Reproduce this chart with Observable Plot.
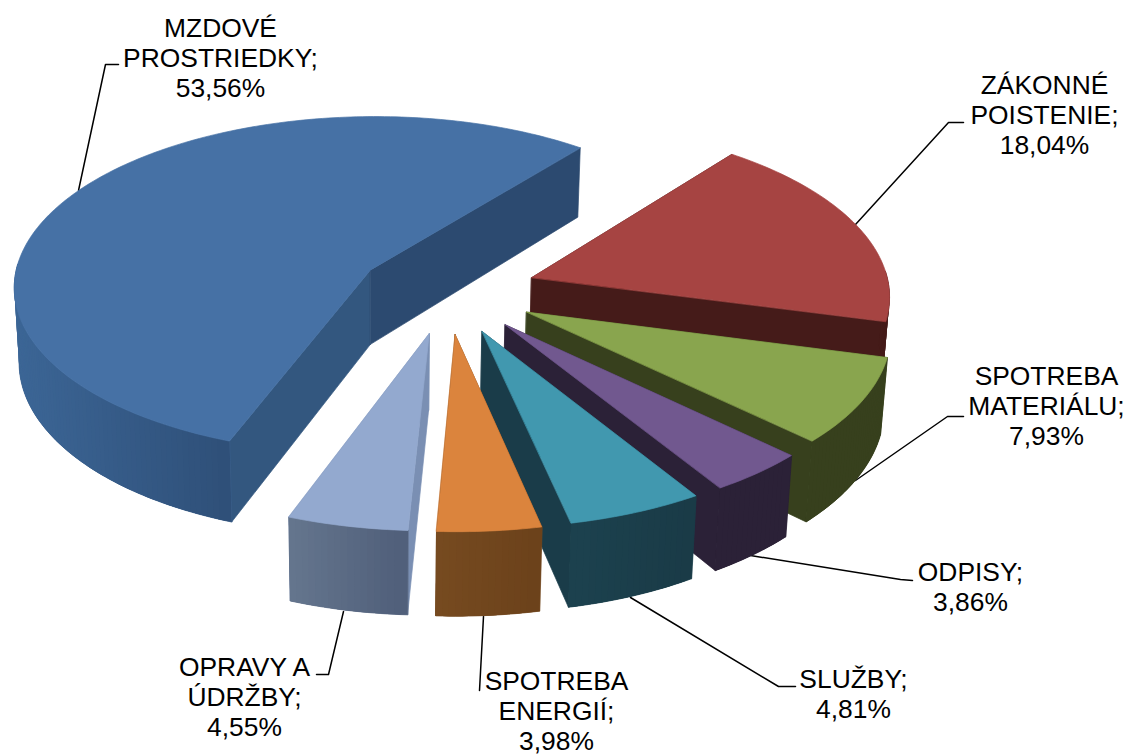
<!DOCTYPE html>
<html><head><meta charset="utf-8">
<script src="https://cdn.jsdelivr.net/npm/d3@7"></script>
<script src="https://cdn.jsdelivr.net/npm/@observablehq/plot@0.6"></script>
<style>html,body{margin:0;padding:0;background:#fff}svg{display:block}</style>
</head><body><div id="chart"></div>
<script>
// Data: printed labels, and slice sizes
const names = ["MZDOVÉ\nPROSTRIEDKY;", "ZÁKONNÉ\nPOISTENIE;", "SPOTREBA\nMATERIÁLU;", "ODPISY;", "SLUŽBY;", "SPOTREBA\nENERGIÍ;", "OPRAVY A\nÚDRŽBY;"];
const shares = [53.56, 18.04, 7.93, 3.86, 4.81, 3.98, 4.55];
const drawnShares = [55.0, 18.39, 8.06, 4.0, 5.5, 4.19, 4.86];
// Styles
const topColors    = ["#4671a5", "#a64442", "#89a54e", "#71588f", "#4198af", "#db843d", "#93a9cf"];
const radialColors = ["#33577f", "#451b19", "#37401d", "#2b2137", "#1a3c49", "#6d431c", "#7a8fb3"];
const backRadial   = ["#2c4a70", "#451b19", "#37401d", "#2b2137", "#1a3c49", "#6d431c", "#7a8fb3"];
const wallLeft     = ["#3c6696", "#451b19", "#37401d", "#2b2137", "#1c424f", "#774b20", "#66778f"];
const wallRight    = ["#2f5079", "#451b19", "#37401d", "#2b2137", "#1a3b47", "#6c421b", "#505f7a"];
// Label layout
const labelX = [220, 1044, 1046, 970, 853, 556, 244];
const labelY = [57, 114, 405, 586, 693, 710, 696];
const leaderX = [[78,105,118],[855,948,963],[855,947,963],[750,900,912],[630,778,795],[483,479,479],[343,328,316]];
const leaderY = [[190,64,64],[224,122,122],[480,416,416],[555,579,580],[597,686,686],[616,690,690],[611,674,674]];
// Projection
const total = d3.sum(drawnShares);
const startAngle = 38.5 - drawnShares[0] / total * 360;
const R = 358, Ry = 171, persp = 0.09, explode = 0.25, Cx = 447, Cy = 290.5, vx = 430, depth = 75, vanishX = 380, shrink = 1 / 76 / 75;
function project(X, Y) {
  const w = 1 - persp * Y;
  return [vx + (Cx - vx + R * X) / w, Cy + Ry * Y / w, w];
}
function drop([x, y, w]) {
  const d = depth / w;
  return [x + (vanishX - x) * d * shrink, y + d];
}
const polys = [];
function addPoly(id, pts, color, edge = color) { for (const [x, y] of pts) polys.push({id, x, y, color, edge}); }
let a0 = startAngle;
drawnShares.forEach((v, i) => {
  const span = v / total * 360, a1 = a0 + span, mid = (a0 + a1) / 2 * Math.PI / 180;
  const ox = explode * Math.sin(mid), oy = -explode * Math.cos(mid);
  const apex = project(ox, oy);
  const steps = Math.max(8, Math.ceil(span));
  const rim = d3.range(steps + 1).map(k => {
    const a = (a0 + span * k / steps) * Math.PI / 180;
    return Object.assign(project(ox + Math.sin(a), oy - Math.cos(a)), {front: Math.cos(a) < 0.05});
  });
  // radial walls
  addPoly(`${i}-r0`, [apex, rim[0], drop(rim[0]), drop(apex)], radialColors[i]);
  addPoly(`${i}-r1`, [apex, rim[steps], drop(rim[steps]), drop(apex)], backRadial[i]);
  // outer wall: a solid base, then shaded strips that overlap their neighbour
  const front = rim.filter(p => p.front);
  const xs = front.map(p => p[0]);
  const x0 = d3.min(xs), x1 = d3.max(xs);
  addPoly(`${i}-b`, [...front, ...front.slice().reverse().map(drop)], d3.interpolateRgb(wallLeft[i], wallRight[i])(0.5));
  for (let k = steps - 1; k >= 0; k--) {
    const p = rim[k], q = rim[k + 1], r = rim[Math.min(k + 2, steps)];
    if (!p.front || !q.front) continue;
    const t = Math.max(0, Math.min(1, ((p[0] + q[0]) / 2 - x0) / (x1 - x0 || 1)));
    addPoly(`${i}-w${k}`, [p, q, r, drop(r), drop(q), drop(p)], d3.interpolateRgb(wallLeft[i], wallRight[i])(t), "none");
  }
  // top surface
  addPoly(`${i}-t`, [apex, ...rim], topColors[i]);
  a0 = a1;
});
const labels = names.map((n, i) => ({
  x: labelX[i], y: labelY[i],
  text: n + "\n" + shares[i].toFixed(2).replace(".", ",") + "%"
}));
const leaders = leaderX.flatMap((xs, i) => xs.map((x, k) => ({i, x, y: leaderY[i][k]})));

const plot = Plot.plot({
  width: 1129, height: 756,
  margin: 0,
  style: {background: "#fff"},
  x: {domain: [0, 1129], range: [0, 1129], axis: null},
  y: {domain: [0, 756], range: [0, 756], axis: null},
  color: {type: "identity"},
  marks: [
    Plot.line(leaders, {x: "x", y: "y", z: "i", stroke: "#000", strokeWidth: 1.5}),
    Plot.line(polys, {x: "x", y: "y", z: "id", fill: "color", stroke: "edge", strokeWidth: 0.7, curve: "linear-closed"}),
    Plot.text(labels, {x: "x", y: "y", text: "text", fontSize: 26.4, lineHeight: 1.12, textAnchor: "middle", lineAnchor: "middle", fontFamily: "Liberation Sans", fill: "#000"})
  ]
});
document.getElementById("chart").appendChild(plot);
</script></body></html>
